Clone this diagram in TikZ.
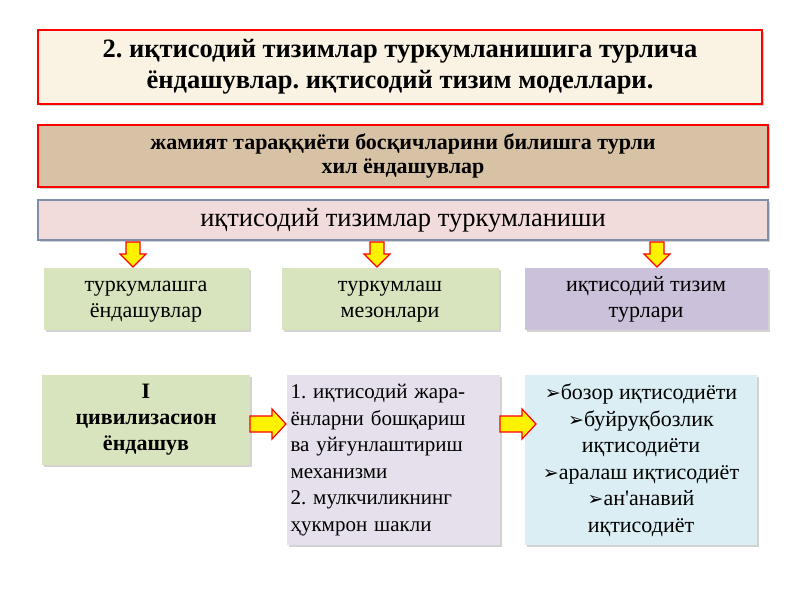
\documentclass[tikz,border=0pt]{standalone}
\usepackage{fontspec}
\setmainfont{Liberation Serif}
\newfontfamily\djfont{DejaVu Sans}
\usetikzlibrary{shadows}
\definecolor{cream}{HTML}{FAF3E3}
\definecolor{tan}{HTML}{D8C2A6}
\definecolor{pinkf}{HTML}{F2DCDB}
\definecolor{greenf}{HTML}{D7E4BD}
\definecolor{lav}{HTML}{CCC1DA}
\definecolor{lav2}{HTML}{E6E0EC}
\definecolor{bluef}{HTML}{DBEEF4}
\definecolor{bordb}{HTML}{7F8FA9}
\newcommand{\bul}{{\djfont\fontsize{19}{26.5}\selectfont ➢}}
\newcommand{\downarr}[2]{\draw[blk] (#1-7,#2-12) -- (#1+7,#2-12) -- (#1+7,#2) -- (#1+13,#2) -- (#1,#2+13) -- (#1-13,#2) -- (#1-7,#2) -- cycle;}
\newcommand{\rightarr}[2]{\draw[blk] (#1-18,#2-8) -- (#1+4,#2-8) -- (#1+4,#2-15) -- (#1+18,#2) -- (#1+4,#2+15) -- (#1+4,#2+8) -- (#1-18,#2+8) -- cycle;}
\begin{document}
\frenchspacing
\begin{tikzpicture}[x=1pt,y=-1pt,
 box/.style={draw=none,drop shadow={shadow xshift=2pt,shadow yshift=-2pt,opacity=0.35},inner sep=4pt,align=center},
 blk/.style={draw=red,fill=yellow,line width=1.2pt,line join=miter}]
\useasboundingbox (0,0) rectangle (800,600);
\node[box,draw=red,line width=1.2pt,fill=cream,minimum width=724pt,minimum height=74pt,font=\bfseries\fontsize{26.5}{31}\selectfont] (t) at (400,67) {2. иқтисодий тизимлар туркумланишига турлича\\ёндашувлар. иқтисодий тизим моделлари.};
\node[box,draw=red,line width=1.2pt,fill=tan,minimum width=730pt,minimum height=62pt,font=\bfseries\fontsize{22}{24}\selectfont] (b2) at (403,156) {жамият тараққиёти босқичларини билишга турли\\хил ёндашувлар};
\node[box,draw=bordb,line width=1.2pt,fill=pinkf,minimum width=730pt,minimum height=40pt,font=\fontsize{26.5}{30}\selectfont] (b3) at (403,220) {иқтисодий тизимлар туркумланиши};
\downarr{133}{254}
\downarr{377}{254}
\downarr{657}{254}
\node[box,fill=greenf,minimum width=205pt,minimum height=62pt,font=\fontsize{22}{26}\selectfont] (c1) at (146,299) {\strut туркумлашга\\\strut ёндашувлар};
\node[box,fill=greenf,minimum width=217pt,minimum height=62pt,font=\fontsize{22}{26}\selectfont] (c2) at (390,299) {\strut туркумлаш\\\strut мезонлари};
\node[box,fill=lav,minimum width=243pt,minimum height=62pt,font=\fontsize{22}{26}\selectfont] (c3) at (646,299) {\strut иқтисодий тизим\\\strut турлари};
\node[box,fill=greenf,minimum width=208pt,minimum height=90pt,font=\bfseries\fontsize{22}{26}\selectfont] (e1) at (146,420) {I\\цивилизасион\\ёндашув};
\node[box,fill=lav2,minimum width=213pt,minimum height=170pt,align=left,font=\fontsize{21}{26.5}\selectfont,text width=205pt] (e2) at (393,460) {1. иқтисодий жара-\\ёнларни бошқариш\\ва уйғунлаштириш\\механизми\\2. мулкчиликнинг\\ҳукмрон шакли};
\node[box,fill=bluef,minimum width=232pt,minimum height=170pt,font=\fontsize{22}{26.5}\selectfont] (e3) at (641,460) {\bul бозор иқтисодиёти\\\bul буйруқбозлик\\иқтисодиёти\\\bul аралаш иқтисодиёт\\\bul ан\textquotesingle анавий\\иқтисодиёт};
\rightarr{268}{424}
\rightarr{518}{424}
\end{tikzpicture}
\end{document}
